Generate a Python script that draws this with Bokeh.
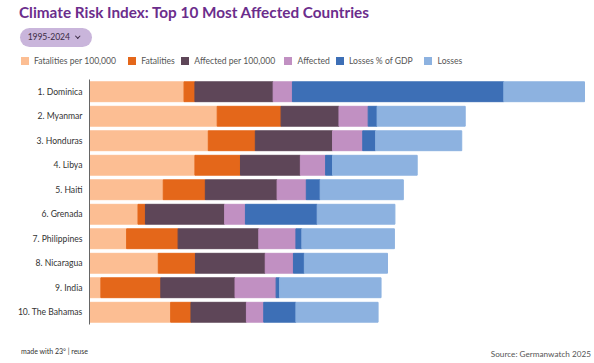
from bokeh.plotting import figure
from bokeh.layouts import column
from bokeh.models import Range1d, FactorRange, ColumnDataSource, Div
from bokeh.embed import file_html
from bokeh.resources import INLINE

# ---- data (index scores) ----
countries = ["1. Dominica", "2. Myanmar", "3. Honduras", "4. Libya", "5. Haiti",
             "6. Grenada", "7. Philippines", "8. Nicaragua", "9. India", "10. The Bahamas"]
fatalities_per_100k = [19.1, 25.8, 24.0, 21.3, 14.9, 9.8, 7.5, 13.9, 2.3, 16.4]
fatalities = [2.2, 12.9, 9.5, 9.2, 8.5, 1.5, 10.4, 7.5, 12.1, 4.1]
affected_per_100k = [15.8, 11.7, 15.6, 12.1, 14.5, 16.0, 16.3, 14.1, 15.0, 11.2]
affected = [3.9, 5.9, 6.1, 5.1, 5.9, 4.2, 7.5, 5.7, 8.3, 3.5]
losses_gdp = [42.7, 1.8, 2.6, 1.4, 2.8, 14.5, 1.2, 2.2, 0.7, 6.5]
losses = [16.3, 17.8, 17.4, 17.1, 16.8, 15.7, 18.7, 16.8, 20.5, 16.6]
series_names = ["Fatalities per 100,000", "Fatalities", "Affected per 100,000",
                "Affected", "Losses % of GDP", "Losses"]
period = "1995-2024"
title_text = "Climate Risk Index: Top 10 Most Affected Countries"
credit_text = "made with 23\u00b0 | reuse"
source_text = "Source: Germanwatch 2025"

# ---- styling ----
colors = ["#FCBE93", "#E4671A", "#5E4658", "#C190C2", "#3D6FB6", "#8DB2E0"]
legend_x = [20.7, 128, 181, 284.3, 335.7, 424.3]   # legend swatch positions (px)
FONT = "Lato"
W = 594
HEAD_H, MAIN_H, FOOT_H = 71, 256, 35
LEFT, TOP, BOTTOM = 89, 8, 3

# ---- header (title, period selector, legend) ----
chevron = ('<span style="display:inline-block;width:3.5px;height:3.5px;'
           'border-right:1.3px solid #3B2B45;border-bottom:1.3px solid #3B2B45;'
           'transform:rotate(45deg);position:absolute;left:55.5px;top:6px;"></span>')
legend_html = "".join(
    f'<div style="position:absolute;left:{x}px;top:57px;width:8px;height:8px;background:{c};"></div>'
    f'<div style="position:absolute;left:{x + 13.3}px;top:55px;font-size:8.6px;line-height:12px;'
    f'color:#555555;white-space:nowrap;">{n}</div>'
    for x, c, n in zip(legend_x, colors, series_names))
head_html = f"""
<div style="position:relative;width:{W}px;height:{HEAD_H}px;font-family:'{FONT}';">
  <div style="position:absolute;left:19px;top:3px;font-size:15.3px;line-height:18px;
              font-weight:bold;color:#6B2D8C;white-space:nowrap;">{title_text}</div>
  <div style="position:absolute;left:20px;top:28px;width:72px;height:19px;border-radius:9.5px;
              background:#C9B5DB;">
    <span style="position:absolute;left:7.7px;top:0px;line-height:19px;font-size:8.6px;
                 letter-spacing:-0.1px;color:#3B2B45;white-space:nowrap;">{period}</span>{chevron}
  </div>
  {legend_html}
</div>"""
head = Div(text=head_html, width=W, height=HEAD_H, margin=(0, 0, 0, 0))

# ---- main chart ----
keys = ["s0", "s1", "s2", "s3", "s4", "s5"]
source = ColumnDataSource(dict(country=countries, s0=fatalities_per_100k, s1=fatalities,
                               s2=affected_per_100k, s3=affected, s4=losses_gdp, s5=losses))

p = figure(width=W, height=MAIN_H, output_backend="svg", toolbar_location=None,
           x_range=Range1d(0, (W - LEFT) / 4.95),
           y_range=FactorRange(*reversed(countries)),
           x_axis_location=None,
           min_border_left=LEFT, min_border_right=0, min_border_top=TOP, min_border_bottom=BOTTOM,
           margin=(0, 0, 0, 0))
p.outline_line_color = None
p.xgrid.grid_line_color = None
p.ygrid.grid_line_color = None
p.background_fill_color = "white"
p.border_fill_color = "white"

p.hbar_stack(keys, y="country", height=0.81, color=colors, source=source)

yax = p.yaxis[0]
yax.axis_line_color = "#666666"
yax.axis_line_width = 1
yax.major_tick_line_color = None
yax.minor_tick_line_color = None
yax.major_tick_out = 0
yax.major_label_standoff = 7
yax.major_label_text_font = FONT
yax.major_label_text_font_size = "8.6px"
yax.major_label_text_color = "#333333"

# ---- footer ----
foot_html = f"""
<div style="position:relative;width:{W}px;height:{FOOT_H}px;font-family:'{FONT}';">
  <div style="position:absolute;left:21px;top:20px;font-size:7px;line-height:9px;
              color:#333333;white-space:nowrap;">{credit_text}</div>
  <div style="position:absolute;right:3px;top:22px;font-size:8.2px;line-height:10px;
              color:#555555;white-space:nowrap;">{source_text}</div>
</div>"""
foot = Div(text=foot_html, width=W, height=FOOT_H, margin=(0, 0, 0, 0))

layout = column(head, p, foot, spacing=0)
open("out.html", "w").write(file_html(layout, INLINE))
